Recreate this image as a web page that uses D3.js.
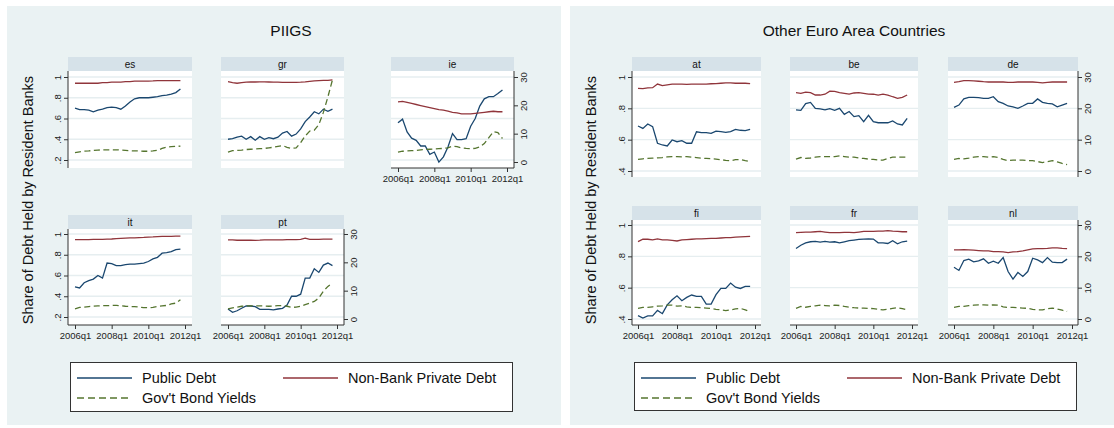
<!DOCTYPE html>
<html>
<head>
<meta charset="utf-8">
<script src="https://cdn.jsdelivr.net/npm/d3@7"></script>
<style>
body { margin: 0; background: #fff; }
text { font-family: "Liberation Sans", Arial, Helvetica, sans-serif; }
</style>
</head>
<body>
<script>
// quarters 2006q1 .. 2011q4
var quarters = ["2006q1","2006q2","2006q3","2006q4","2007q1","2007q2","2007q3","2007q4",
                "2008q1","2008q2","2008q3","2008q4","2009q1","2009q2","2009q3","2009q4",
                "2010q1","2010q2","2010q3","2010q4","2011q1","2011q2","2011q3","2011q4"];
var xTickLabels = ["2006q1","2008q1","2010q1","2012q1"];
var piigsCountries = ["es","gr","ie","it","pt"];
var otherCountries = ["at","be","de","fi","fr","nl"];
var piigsShareTicks = [.2,.4,.6,.8,1];
var otherShareTicks = [.4,.6,.8,1];
var yieldTicks = [0,10,20,30];
var legendLabels = ["Public Debt","Non-Bank Private Debt","Gov't Bond Yields"];
var colors = ["#1a476f","#90353b","#55752f"];

// share of public debt held by resident banks
var esPublic = [.70,.685,.685,.68,.665,.68,.69,.705,.71,.705,.69,.72,.76,.79,.80,.80,.80,.805,.81,.82,.825,.835,.85,.885];
var grPublic = [.40,.405,.42,.43,.40,.425,.39,.425,.40,.415,.405,.42,.46,.475,.43,.45,.50,.57,.615,.665,.645,.69,.67,.69];
var iePublic = [.558,.594,.47,.41,.39,.335,.335,.255,.277,.18,.23,.326,.455,.397,.397,.405,.526,.60,.72,.79,.81,.81,.84,.875];
var itPublic = [.49,.48,.53,.55,.565,.60,.575,.72,.715,.695,.695,.705,.71,.71,.715,.72,.735,.76,.775,.815,.82,.83,.85,.855];
var ptPublic = [.277,.245,.26,.284,.306,.306,.30,.274,.274,.274,.268,.277,.284,.316,.40,.40,.42,.575,.575,.665,.63,.70,.72,.695];
var atPublic = [.687,.672,.70,.683,.577,.566,.56,.598,.587,.594,.577,.577,.65,.645,.645,.64,.655,.651,.647,.651,.666,.66,.658,.666];
var bePublic = [.79,.787,.83,.838,.80,.796,.79,.798,.787,.80,.762,.78,.747,.753,.715,.755,.715,.708,.708,.708,.72,.70,.694,.736];
var dePublic = [.806,.821,.86,.87,.87,.868,.864,.864,.874,.843,.832,.815,.81,.80,.815,.832,.832,.86,.838,.832,.828,.81,.821,.832];
var fiPublic = [.421,.406,.42,.42,.455,.434,.49,.523,.548,.517,.538,.553,.544,.544,.495,.495,.555,.595,.595,.629,.603,.595,.608,.608];
var frPublic = [.85,.871,.886,.893,.895,.891,.895,.891,.893,.886,.893,.90,.904,.908,.91,.912,.91,.886,.886,.882,.90,.88,.893,.897];
var nlPublic = [.73,.71,.773,.782,.765,.771,.784,.756,.769,.756,.792,.703,.654,.697,.672,.703,.788,.777,.76,.792,.763,.76,.76,.782];

// share of non-bank private debt held by resident banks
var esPrivate = [.94,.94,.94,.94,.94,.94,.945,.945,.95,.95,.95,.955,.955,.96,.96,.96,.96,.962,.965,.965,.965,.966,.966,.965];
var grPrivate = [.955,.945,.94,.945,.95,.952,.952,.953,.953,.952,.95,.95,.948,.948,.948,.948,.95,.953,.958,.962,.965,.967,.968,.972];
var iePrivate = [.76,.765,.755,.745,.735,.725,.715,.705,.695,.685,.68,.67,.66,.655,.645,.645,.645,.65,.655,.66,.665,.67,.665,.665];
var itPrivate = [.945,.945,.945,.945,.948,.948,.948,.95,.952,.955,.958,.96,.962,.963,.965,.967,.97,.972,.975,.977,.978,.978,.98,.98];
var ptPrivate = [.944,.943,.94,.94,.94,.94,.938,.94,.943,.944,.944,.944,.944,.946,.946,.946,.948,.96,.948,.948,.948,.95,.95,.95];
var atPrivate = [.928,.926,.93,.932,.955,.945,.95,.955,.955,.955,.953,.955,.955,.955,.955,.957,.958,.96,.962,.962,.96,.96,.96,.958];
var bePrivate = [.90,.896,.904,.90,.885,.885,.89,.91,.908,.90,.896,.891,.898,.90,.896,.891,.89,.885,.891,.885,.874,.864,.87,.885];
var dePrivate = [.966,.97,.977,.977,.975,.973,.97,.968,.968,.968,.968,.966,.966,.968,.968,.968,.968,.966,.962,.966,.968,.968,.968,.968];
var fiPrivate = [.894,.909,.909,.905,.911,.905,.905,.902,.898,.905,.907,.909,.911,.911,.913,.915,.915,.917,.919,.919,.922,.924,.926,.928];
var frPrivate = [.951,.953,.955,.955,.957,.959,.955,.951,.951,.951,.953,.953,.951,.955,.959,.959,.959,.961,.961,.964,.961,.959,.957,.957];
var nlPrivate = [.841,.841,.843,.841,.839,.837,.835,.835,.83,.83,.828,.824,.828,.83,.835,.841,.847,.849,.849,.851,.854,.854,.851,.849];

// 10y government bond yields (right axis)
var esYield = [3.3,3.6,3.8,3.9,4.1,4.2,4.3,4.3,4.3,4.3,4.2,4.1,4.0,3.9,3.9,3.8,3.8,3.9,4.1,4.8,5.3,5.4,5.5,5.6];
var grYield = [3.5,4.0,4.1,4.2,4.4,4.5,4.6,4.7,4.8,5.0,5.2,5.5,5.8,5.2,4.8,5.0,6.8,9.2,10.9,11.2,13.2,17.5,23.0,29.0];
var ieYield = [3.5,3.8,3.9,4.0,4.1,4.3,4.4,4.5,4.6,4.7,4.8,5.0,5.6,5.4,5.0,4.8,4.7,4.8,5.3,6.5,8.6,10.7,10.4,8.3];
var itYield = [3.6,4.1,4.2,4.4,4.5,4.6,4.7,4.7,4.8,4.8,4.7,4.5,4.4,4.4,4.2,4.0,4.0,4.1,4.4,4.6,4.8,5.3,5.6,6.8];
var ptYield = [3.6,3.9,4.2,4.5,4.6,4.6,4.6,4.6,4.6,4.5,4.6,4.7,4.7,4.5,4.1,4.2,4.5,5.1,5.6,6.2,7.4,9.8,11.5,12.7];
var atYield = [3.7,3.9,4.0,4.1,4.2,4.3,4.5,4.6,4.6,4.5,4.6,4.4,4.3,4.1,4.0,3.9,3.8,3.6,3.4,3.3,3.6,3.7,3.3,3.0];
var beYield = [3.8,4.3,4.0,4.15,4.4,4.6,4.6,4.6,4.6,4.8,4.6,4.4,4.4,4.15,4.0,3.8,3.7,3.5,3.5,4.0,4.4,4.4,4.4,4.4];
var deYield = [3.7,4.0,3.9,4.1,4.4,4.6,4.6,4.4,4.6,4.3,3.7,3.3,3.5,3.5,3.5,3.3,3.3,3.0,2.7,3.0,3.3,2.9,2.4,2.0];
var fiYield = [3.4,3.7,3.7,3.9,4.1,4.2,4.4,4.4,4.1,4.2,3.9,3.7,3.7,3.6,3.5,3.4,3.1,2.9,2.7,2.9,3.2,3.4,2.9,2.3];
var frYield = [3.4,4.0,3.75,4.0,4.2,4.4,4.3,4.2,4.4,4.3,4.0,3.75,3.6,3.5,3.5,3.4,3.3,3.1,2.9,3.1,3.4,3.6,3.3,2.9];
var nlYield = [3.7,4.0,4.0,4.25,4.4,4.5,4.5,4.4,4.5,4.4,3.9,3.7,3.7,3.6,3.5,3.4,3.1,2.9,2.9,3.3,3.5,3.2,2.8,2.4];

var publicBy = {es:esPublic, gr:grPublic, ie:iePublic, it:itPublic, pt:ptPublic, at:atPublic, be:bePublic, de:dePublic, fi:fiPublic, fr:frPublic, nl:nlPublic};
var privateBy = {es:esPrivate, gr:grPrivate, ie:iePrivate, it:itPrivate, pt:ptPrivate, at:atPrivate, be:bePrivate, de:dePrivate, fi:fiPrivate, fr:frPrivate, nl:nlPrivate};
var yieldBy = {es:esYield, gr:grYield, ie:ieYield, it:itYield, pt:ptYield, at:atYield, be:beYield, de:deYield, fi:fiYield, fr:frYield, nl:nlYield};

function qIndex(label) {
  return (+label.slice(0,4) - 2006) * 4 + (+label.slice(5) - 1);
}
function shareFmt(d) { return d === 1 ? "1" : String(d).replace("0.", "."); }

var panels = [
  {title:"PIIGS", bg:[7,561], titleX:291, yTitleX:28, countries:piigsCountries,
   cols:[[68,192],[221,344],[391,514]],
   rows:[{strip:57, top:71, bottom:168, share:[160,77], yld:[162,77]},
         {strip:215, top:229, bottom:325, share:[317,234], yld:[319,234]}],
   shareTicks:piigsShareTicks, shareDom:[.2,1], pad:7,
   legend:{x:70, y:362, w:442, h:49, c2:283}},
  {title:"Other Euro Area Countries", bg:[570,1114], titleX:854, yTitleX:591, countries:otherCountries,
   cols:[[632,761],[790,918],[948,1078]],
   rows:[{strip:57, top:71, bottom:177, share:[171,77], yld:[171,77]},
         {strip:206, top:220, bottom:325, share:[319,225], yld:[319,225]}],
   shareTicks:otherShareTicks, shareDom:[.4,1], pad:6,
   legend:{x:634, y:362, w:442, h:48, c2:847}}
];

var svg = d3.select("body").append("svg")
    .attr("width", 1114)
    .attr("height", 428);

panels.forEach(function(p) {
  var g = svg.append("g");
  g.append("rect").attr("x", p.bg[0]).attr("y", 6)
    .attr("width", p.bg[1] - p.bg[0]).attr("height", 419)
    .attr("fill", "#eaf2f3");
  g.append("text").attr("x", p.titleX).attr("y", 36)
    .attr("text-anchor", "middle").style("font-size", "15.5px").attr("fill", "#111")
    .text(p.title);
  g.append("text")
    .attr("transform", "translate(" + p.yTitleX + ",200) rotate(-90)")
    .attr("text-anchor", "middle").attr("dy", ".35em")
    .style("font-size", "14.5px").attr("fill", "#111")
    .text("Share of Debt Held by Resident Banks");

  var n = p.countries.length;
  p.countries.forEach(function(c, k) {
    var r = Math.floor(k / 3), ci = k % 3;
    var row = p.rows[r], col = p.cols[ci];
    var hasLeft = ci === 0;
    var hasRight = ci === 2 || k === n - 1;
    var hasX = r === 1 || k + 3 >= n;

    var x = d3.scaleLinear().domain([0, 24]).range([col[0] + p.pad, col[1] - p.pad]);
    var yS = d3.scaleLinear().domain(p.shareDom).range(row.share);
    var yY = d3.scaleLinear().domain([0, 30]).range(row.yld);

    var cell = g.append("g");
    cell.append("rect").attr("x", col[0]).attr("y", row.strip)
      .attr("width", col[1] - col[0]).attr("height", row.top - row.strip)
      .attr("fill", "#d6e2e9");
    cell.append("text").attr("x", (col[0] + col[1]) / 2).attr("y", row.strip + 10.5)
      .attr("text-anchor", "middle").style("font-size", "10px").attr("fill", "#111")
      .text(c);
    cell.append("rect").attr("x", col[0]).attr("y", row.top)
      .attr("width", col[1] - col[0]).attr("height", row.bottom - row.top)
      .attr("fill", "#fff");
    cell.selectAll("line.grid").data(p.shareTicks).enter().append("line")
      .attr("class", "grid")
      .attr("x1", col[0]).attr("x2", col[1])
      .attr("y1", function(d) { return yS(d); }).attr("y2", function(d) { return yS(d); })
      .attr("stroke", "#e6eef0").attr("stroke-width", 1.4);

    var lineS = d3.line().x(function(d, i) { return x(i); }).y(function(d) { return yS(d); });
    var lineY = d3.line().x(function(d, i) { return x(i); }).y(function(d) { return yY(d); });
    cell.append("path").attr("d", lineS(publicBy[c]))
      .attr("fill", "none").attr("stroke", colors[0]).attr("stroke-width", 1.3);
    cell.append("path").attr("d", lineS(privateBy[c]))
      .attr("fill", "none").attr("stroke", colors[1]).attr("stroke-width", 1.3);
    cell.append("path").attr("d", lineY(yieldBy[c]))
      .attr("fill", "none").attr("stroke", colors[2]).attr("stroke-width", 1.3)
      .attr("stroke-dasharray", "6,3.5");

    if (hasLeft) {
      var ax = cell.append("g").attr("transform", "translate(" + col[0] + ",0)")
        .call(d3.axisLeft(yS).tickValues(p.shareTicks).tickFormat(shareFmt).tickSize(4).tickPadding(6));
      ax.select(".domain").attr("d", "M0," + row.top + "V" + row.bottom);
      styleAxis(ax);
      ax.selectAll(".tick text")
        .attr("transform", "rotate(-90)").attr("x", 0).attr("y", -10.5)
        .attr("dy", ".35em").attr("text-anchor", "middle");
    }
    if (hasRight) {
      var ay = cell.append("g").attr("transform", "translate(" + col[1] + ",0)")
        .call(d3.axisRight(yY).tickValues(yieldTicks).tickSize(4).tickPadding(6));
      ay.select(".domain").attr("d", "M0," + row.top + "V" + row.bottom);
      styleAxis(ay);
      ay.selectAll(".tick text")
        .attr("transform", "rotate(-90)").attr("x", 0).attr("y", 9.5)
        .attr("dy", ".35em").attr("text-anchor", "middle");
    }
    if (hasX) {
      var xa = cell.append("g").attr("transform", "translate(0," + row.bottom + ")")
        .call(d3.axisBottom(x).tickValues(xTickLabels.map(qIndex))
          .tickFormat(function(d) { return xTickLabels[xTickLabels.map(qIndex).indexOf(d)]; })
          .tickSize(4).tickPadding(3));
      xa.select(".domain").attr("d", "M" + col[0] + ",0H" + col[1]);
      styleAxis(xa);
    }
  });

  // legend
  var L = p.legend;
  var lg = g.append("g");
  lg.append("rect").attr("x", L.x + 0.5).attr("y", L.y + 0.5).attr("width", L.w).attr("height", L.h)
    .attr("fill", "#fff").attr("stroke", "#333").attr("stroke-width", 1);
  var items = [
    {lx: L.x + 7, ly: L.y + 16, k: 0},
    {lx: L.c2, ly: L.y + 16, k: 1},
    {lx: L.x + 7, ly: L.y + 36, k: 2}
  ];
  items.forEach(function(it) {
    lg.append("line").attr("x1", it.lx).attr("x2", it.lx + 55)
      .attr("y1", it.ly).attr("y2", it.ly)
      .attr("stroke", colors[it.k]).attr("stroke-width", 1.3)
      .attr("stroke-dasharray", it.k === 2 ? "7,4" : null);
    lg.append("text").attr("x", it.lx + 65).attr("y", it.ly + 5)
      .style("font-size", "14.5px").attr("fill", "#111")
      .text(legendLabels[it.k]);
  });
});

function styleAxis(a) {
  a.select(".domain").attr("stroke", "#333").attr("stroke-width", 1);
  a.selectAll(".tick line").attr("stroke", "#333");
  a.selectAll(".tick text").attr("fill", "#222")
    .style("font-size", "9.5px").style("font-family", "'Liberation Sans', Arial, sans-serif");
}
</script>
</body>
</html>
